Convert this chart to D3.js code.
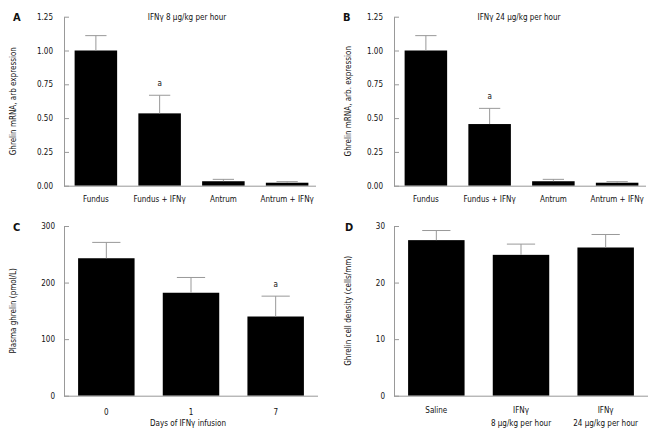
<!DOCTYPE html>
<html><head><meta charset="utf-8">
<script src="https://cdn.jsdelivr.net/npm/d3@7"></script>
<style>
body{margin:0;background:#fff;}
svg text{font-family:"DejaVu Sans Condensed","DejaVu Sans",sans-serif;fill:#111;}
</style></head>
<body><svg id="c" width="660" height="437"></svg>
<script>
// ---- data ----
const catsAB = ["Fundus", "Fundus + IFNγ", "Antrum", "Antrum + IFNγ"];
const meanA = [1.00, 0.535, 0.033, 0.022];
const semA  = [0.11, 0.134, 0.014, 0.008];
const meanB = [1.00, 0.456, 0.033, 0.022];
const semB  = [0.11, 0.116, 0.014, 0.008];
const ticksAB = [0, 0.25, 0.5, 0.75, 1.0, 1.25];

const catsC = ["0", "1", "7"];
const meanC = [243, 182, 140];
const semC  = [28, 27, 36];
const ticksC = [0, 100, 200, 300];

const catsD = [["Saline"], ["IFNγ", "8 μg/kg per hour"], ["IFNγ", "24 μg/kg per hour"]];
const meanD = [27.5, 24.9, 26.2];
const semD  = [1.7, 1.9, 2.3];
const ticksD = [0, 10, 20, 30];

const sigA = [1], sigB = [1], sigC = [2], sigD = [];

// ---- drawing ----
const svg = d3.select("#c");
const grey = "#999";

function panel(o) {
  const g = svg.append("g").attr("transform", `translate(${o.dx},${o.dy})`);
  const y = d3.scaleLinear().domain([0, o.ymax]).range([o.y0, o.y1]);
  const x = d3.scaleBand().domain(d3.range(o.cats.length))
    .range([o.x0, o.xr]).paddingInner(0.333).paddingOuter(0.1665);
  // bars
  g.selectAll("rect.bar").data(o.mean).join("rect")
    .attr("x", (d, i) => x(i)).attr("width", x.bandwidth())
    .attr("y", d => y(d)).attr("height", d => y(0) - y(d)).attr("fill", "#000");
  // error bars
  const eg = g.selectAll("g.err").data(o.mean).join("g");
  eg.append("line")
    .attr("x1", (d, i) => x(i) + x.bandwidth() / 2).attr("x2", (d, i) => x(i) + x.bandwidth() / 2)
    .attr("y1", d => y(d)).attr("y2", (d, i) => y(d + o.sem[i]))
    .attr("stroke", grey).attr("stroke-width", 1);
  eg.append("line")
    .attr("x1", (d, i) => x(i) + x.bandwidth() * 0.25).attr("x2", (d, i) => x(i) + x.bandwidth() * 0.75)
    .attr("y1", (d, i) => y(d + o.sem[i])).attr("y2", (d, i) => y(d + o.sem[i]))
    .attr("stroke", grey).attr("stroke-width", 1);
  // significance
  g.selectAll("text.sig").data(o.sig).join("text")
    .attr("x", i => x(i) + x.bandwidth() / 2).attr("y", i => y(o.mean[i] + o.sem[i]) - 9)
    .attr("text-anchor", "middle").attr("font-size", 8).text("a");
  // y axis
  const ax = g.append("g").attr("transform", `translate(${o.x0},0)`)
    .call(d3.axisLeft(y).tickValues(o.ticks).tickFormat(o.fmt).tickSize(-5).tickPadding(o.tp).tickSizeOuter(0));
  ax.select(".domain").attr("stroke", grey);
  ax.selectAll(".tick line").attr("stroke", grey);
  ax.selectAll(".tick text").attr("font-size", 8).attr("fill", "#111")
    .attr("font-family", '"DejaVu Sans Condensed","DejaVu Sans",sans-serif');
  // x axis line
  g.append("line").attr("x1", o.x0).attr("x2", o.xend).attr("y1", y(0) + 0.5).attr("y2", y(0) + 0.5)
    .attr("stroke", grey);
  // x labels
  const xl = g.selectAll("text.xl").data(o.cats).join("text")
    .attr("text-anchor", "middle").attr("font-size", 8)
    .attr("x", (d, i) => x(i) + x.bandwidth() / 2).attr("y", o.xly);
  xl.each(function(d) {
    const lines = Array.isArray(d) ? d : [d];
    d3.select(this).selectAll("tspan").data(lines).join("tspan")
      .attr("x", d3.select(this).attr("x")).attr("dy", (l, j) => j ? 13.5 : 0).text(l => l);
  });
  // y label
  g.append("text").attr("transform", `translate(${o.ylx},${(o.y0 + o.y1) / 2}) rotate(-90)`)
    .attr("text-anchor", "middle").attr("font-size", 8).text(o.ylabel);
  // title
  if (o.title) g.append("text").attr("x", o.tx).attr("y", 20).attr("text-anchor", "middle")
    .attr("font-size", 8).text(o.title);
  if (o.xtitle) g.append("text").attr("x", o.tx).attr("y", o.xty).attr("text-anchor", "middle")
    .attr("font-size", 8).text(o.xtitle);
  // panel letter
  g.append("text").attr("x", o.lx).attr("y", o.ly).attr("font-size", 11).attr("font-weight", "bold")
    .attr("font-family", '"DejaVu Sans",sans-serif').text(o.letter);
}

panel({dx: 0, dy: 0, cats: catsAB, mean: meanA, sem: semA, sig: sigA, ticks: ticksAB, fmt: d3.format(".2f"),
  ymax: 1.25, y0: 185.7, y1: 16.7, x0: 64, xr: 319, xend: 316, tp: 11, xly: 201.5,
  ylx: 16, ylabel: "Ghrelin mRNA, arb expression", title: "IFNγ 8 μg/kg per hour", tx: 187,
  letter: "A", lx: 13, ly: 21});
panel({dx: 330, dy: 0, cats: catsAB, mean: meanB, sem: semB, sig: sigB, ticks: ticksAB, fmt: d3.format(".2f"),
  ymax: 1.25, y0: 185.7, y1: 16.7, x0: 64, xr: 319, xend: 316, tp: 11, xly: 201.5,
  ylx: 21, ylabel: "Ghrelin mRNA, arb. expression", title: "IFNγ 24 μg/kg per hour", tx: 189,
  letter: "B", lx: 13, ly: 21});
panel({dx: 0, dy: 0, cats: catsC, mean: meanC, sem: semC, sig: sigC, ticks: ticksC, fmt: d3.format("d"),
  ymax: 300, y0: 395.7, y1: 226, x0: 64, xr: 318, xend: 318, tp: 9, xly: 415,
  ylx: 16, ylabel: "Plasma ghrelin (pmol/L)", xtitle: "Days of IFNγ infusion", tx: 188, xty: 425.5,
  letter: "C", lx: 13, ly: 231});
panel({dx: 330, dy: 0, cats: catsD, mean: meanD, sem: semD, sig: sigD, ticks: ticksD, fmt: d3.format("d"),
  ymax: 30, y0: 395.7, y1: 226, x0: 64, xr: 318, xend: 318, tp: 9, xly: 412.5,
  ylx: 21, ylabel: "Ghrelin cell density (cells/mm)",
  letter: "D", lx: 15, ly: 231});
</script></body></html>
